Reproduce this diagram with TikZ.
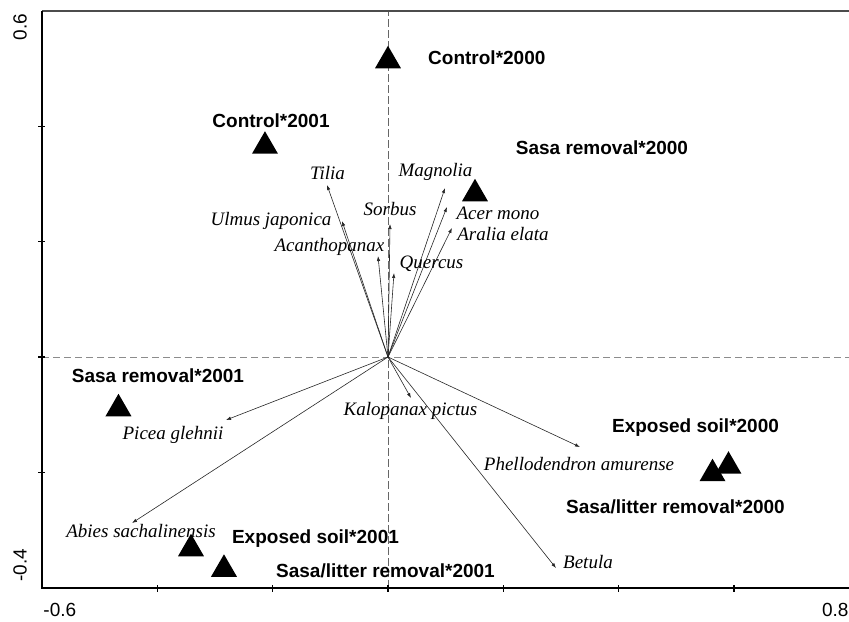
\documentclass[tikz,border=0pt]{standalone}
\usepackage{fontspec}
\setmainfont{Liberation Serif}
\setsansfont{Liberation Sans}
\usetikzlibrary{arrows.meta,shapes.geometric}

\tikzset{
  site/.style={regular polygon,regular polygon sides=3,fill=black,inner sep=0pt,minimum size=30pt},
  sitename/.style={font=\sffamily\bfseries\fontsize{19}{21}\selectfont,inner sep=0pt},
  species/.style={font=\itshape\fontsize{19}{21}\selectfont,inner sep=0pt},
  vec/.style={-{Latex[length=5pt,width=3.5pt]},line width=0.6pt,black!85},
  ticklabel/.style={font=\sffamily\fontsize{19}{21}\selectfont,inner sep=0pt}
}

\begin{document}
\begin{tikzpicture}[x=576.5pt,y=577pt]
      \useasboundingbox (-0.67302,-0.45754) rectangle (0.79965,0.61872);
      \def\xmin{-0.6};
      \def\xmax{0.8};
      \def\ymin{-0.4};
      \def\ymax{0.6};
      % zero lines
      \draw[black!45,line width=0.8pt,dash pattern=on 7pt off 4pt] (\xmin,0) -- (\xmax,0);
      \draw[black!60,line width=0.8pt,dash pattern=on 8pt off 3pt] (0,\ymin) -- (0,\ymax);
      % frame
      \draw[black!70,line width=1.6pt] (\xmin,\ymax) -- (\xmax,\ymax);
      \draw[black!80,line width=0.8pt] (\xmax,\ymax) -- (\xmax,\ymin);
      \draw[line width=1.8pt] (\xmin,\ymax) -- (\xmin,\ymin) -- (\xmax,\ymin);
      \foreach \y in {-0.2,0,0.2,0.4}
        \draw[line width=1.4pt] (\xmin,\y) ++(-4pt,0) -- ++(7pt,0);
      \foreach \x in {-0.4,-0.2,0,0.2,0.4,0.6}
        \draw[line width=1.4pt] (\x,\ymin) ++(0,-4pt) -- ++(0,7pt);
      \node[ticklabel,rotate=90,anchor=east] (ytop) at (-0.6383,0.595) {0.6};
      \node[ticklabel,rotate=90,anchor=west] (ybot) at (-0.6383,-0.3896) {-0.4};
      \node[ticklabel,anchor=west] (xleft) at (-0.598,-0.4385) {-0.6};
      \node[ticklabel,anchor=east] (xright) at (0.799,-0.4385) {0.8};
      % species vectors
      \coordinate (O) at (0,0);
      \coordinate (tilia) at (-0.1058,0.2981);
      \coordinate (ulmus) at (-0.0798,0.2357);
      \coordinate (acanth) at (-0.0173,0.1750);
      \coordinate (sorbus) at (0.0035,0.2305);
      \coordinate (quercus) at (0.0104,0.1456);
      \coordinate (magnolia) at (0.0989,0.2929);
      \coordinate (acer) at (0.1023,0.2600);
      \coordinate (aralia) at (0.1110,0.2236);
      \coordinate (kalo) at (0.0399,-0.0711);
      \coordinate (phello) at (0.3330,-0.1560);
      \coordinate (betula) at (0.2914,-0.3657);
      \coordinate (picea) at (-0.2810,-0.1092);
      \coordinate (abies) at (-0.4440,-0.2877);
      \foreach \t in {tilia,ulmus,acanth,sorbus,quercus,magnolia,acer,aralia,kalo,phello,betula,picea,abies}
        \draw[vec] (O) -- (\t);
      \node[species] (tilia-l) at (-0.1049,0.3189) {Tilia};
      \node[species] (ulmus-l) at (-0.2029,0.2357) {Ulmus japonica};
      \node[species] (acanth-l) at (-0.1015,0.1906) {Acanthopanax};
      \node[species] (sorbus-l) at (0.0035,0.2565) {Sorbus};
      \node[species] (quercus-l) at (0.0755,0.1612) {Quercus};
      \node[species] (magnolia-l) at (0.0824,0.3206) {Magnolia};
      \node[species] (acer-l) at (0.1908,0.2496) {Acer mono};
      \node[species] (aralia-l) at (0.1995,0.2132) {Aralia elata};
      \node[species] (kalo-l) at (0.0390,-0.0936) {Kalopanax pictus};
      \node[species] (phello-l) at (0.3313,-0.1854) {Phellodendron amurense};
      \node[species] (betula-l) at (0.3469,-0.3553) {Betula};
      \node[species] (picea-l) at (-0.3729,-0.1352) {Picea glehnii};
      \node[species] (abies-l) at (-0.4284,-0.3016) {Abies sachalinensis};
      % treatment * year scores
      \node[site] (c2000) at (0,0.5134) {};
      \node[site] (c2001) at (-0.2134,0.3653) {};
      \node[site] (sr2000) at (0.1509,0.2829) {};
      \node[site] (sr2001) at (-0.4675,-0.0897) {};
      \node[site] (es2001) at (-0.3417,-0.3323) {};
      \node[site] (sl2001) at (-0.2845,-0.3679) {};
      \node[site] (es2000) at (0.5906,-0.1893) {};
      \node[site] (sl2000) at (0.5629,-0.2023) {};
      \node[sitename,anchor=west] (c2000-l) at (0.0694,0.5182) {Control*2000};
      \node[sitename] (c2001-l) at (-0.2029,0.4090) {Control*2001};
      \node[sitename] (sr2000-l) at (0.3712,0.3622) {Sasa removal*2000};
      \node[sitename] (sr2001-l) at (-0.3990,-0.0329) {Sasa removal*2001};
      \node[sitename] (es2001-l) at (-0.1258,-0.3154) {Exposed soil*2001};
      \node[sitename] (sl2001-l) at (-0.0043,-0.3709) {Sasa/litter removal*2001};
      \node[sitename] (es2000-l) at (0.5334,-0.1230) {Exposed soil*2000};
      \node[sitename] (sl2000-l) at (0.4987,-0.2600) {Sasa/litter removal*2000};
\end{tikzpicture}
\end{document}
